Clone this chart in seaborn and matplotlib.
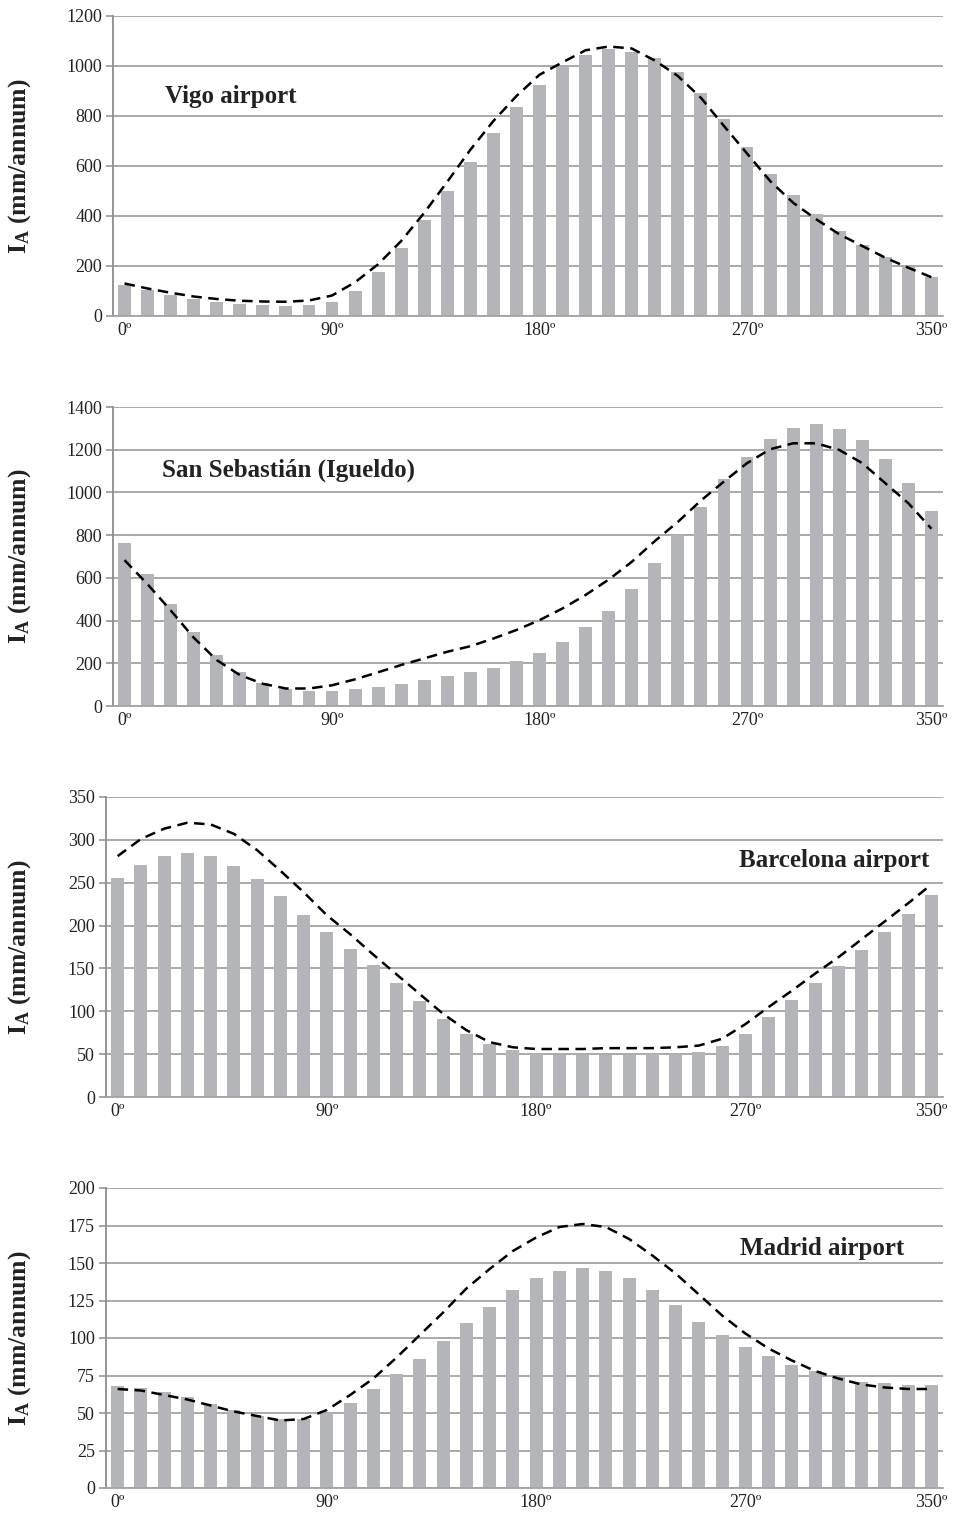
import matplotlib
matplotlib.use("Agg")
import matplotlib.pyplot as plt
import pandas as pd
import seaborn as sns

# ---------------- data ----------------
degrees = [0, 10, 20, 30, 40, 50, 60, 70, 80, 90, 100, 110, 120, 130, 140, 150, 160, 170,
           180, 190, 200, 210, 220, 230, 240, 250, 260, 270, 280, 290, 300, 310, 320, 330, 340, 350]
xtick_pos = [0, 90, 180, 270, 350]
xtick_labels = ["0º", "90º", "180º", "270º", "350º"]

vigo_bars = [125, 103, 85, 68, 55, 48, 43, 40, 45, 56, 100, 175, 272, 383, 500, 617, 731, 836,
             924, 996, 1044, 1068, 1058, 1031, 975, 893, 789, 675, 569, 483, 408, 341, 285, 236, 196, 157]
vigo_fit = [130, 110, 93, 78, 68, 61, 58, 57, 62, 82, 135, 207, 300, 413, 537, 665, 780, 880,
            965, 1015, 1063, 1078, 1070, 1022, 960, 873, 760, 650, 540, 453, 387, 327, 280, 233, 193, 155]

sansebastian_bars = [765, 620, 478, 345, 238, 160, 108, 80, 68, 68, 78, 90, 105, 122, 140, 158, 180, 210,
                     248, 302, 368, 447, 548, 668, 800, 933, 1062, 1168, 1250, 1302, 1319, 1297, 1244, 1157, 1044, 912]
sansebastian_fit = [683, 570, 448, 320, 215, 145, 104, 82, 82, 97, 125, 158, 192, 223, 254, 280, 316, 356,
                    402, 457, 520, 592, 675, 772, 862, 962, 1051, 1137, 1202, 1230, 1230, 1199, 1137, 1043, 949, 830]

barcelona_bars = [256, 271, 281, 285, 281, 270, 254, 234, 212, 192, 173, 154, 133, 112, 91, 73, 62, 55,
                  50, 49, 49, 49, 49, 50, 50, 53, 60, 74, 93, 113, 133, 153, 172, 193, 214, 236]
barcelona_fit = [281, 301, 313, 320, 318, 307, 288, 264, 239, 212, 190, 166, 143, 120, 97, 78, 64, 58,
                 56, 56, 56, 57, 57, 57, 58, 60, 68, 85, 105, 124, 144, 163, 184, 205, 226, 248]

madrid_bars = [68, 67, 64, 61, 56, 52, 48, 46, 46, 50, 57, 66, 76, 86, 98, 110, 121, 132,
               140, 145, 147, 145, 140, 132, 122, 111, 102, 94, 88, 82, 78, 74, 71, 70, 69, 69]
madrid_fit = [66, 65, 62, 59, 55, 51, 48, 45, 46, 52, 62, 73, 87, 102, 117, 133, 146, 158,
              167, 174, 176, 174, 166, 155, 143, 129, 115, 103, 93, 85, 78, 73, 69, 67, 66, 66]

titles = ["Vigo airport", "San Sebastián (Igueldo)", "Barcelona airport", "Madrid airport"]
y_max = [1200, 1400, 350, 200]
y_step = [200, 200, 50, 25]
ylabel_text = r"$\mathbf{I_A}$ (mm/annum)"

# ---------------- style ----------------
sns.set_style("white")
plt.rcParams['font.family'] = ['Liberation Serif', 'DejaVu Serif']
plt.rcParams['mathtext.fontset'] = 'custom'
plt.rcParams['mathtext.rm'] = 'Liberation Serif'
plt.rcParams['mathtext.bf'] = 'Liberation Serif:bold'
plt.rcParams['mathtext.it'] = 'Liberation Serif:italic'

BAR = '#b3b5b8'
GRID = '#a3a3a3'
AXIS = '#8c8c8c'
TXT = '#222222'

W, H = 955, 1516
fig = plt.figure(figsize=(W / 100, H / 100), dpi=100)

# pixel boxes (left, top, right, bottom)
boxes = [(113, 16, 943, 316), (113, 407, 943, 706), (106, 797, 943, 1097), (106, 1188, 943, 1488)]
title_pos = [(0.063, 0.733, 'left'), (0.059, 0.79, 'left'), (0.984, 0.787, 'right'), (0.757, 0.80, 'left')]

series = [(vigo_bars, vigo_fit), (sansebastian_bars, sansebastian_fit),
          (barcelona_bars, barcelona_fit), (madrid_bars, madrid_fit)]

for i, (bars, fit) in enumerate(series):
    l, t, r, b = boxes[i]
    ax = fig.add_axes([l / W, 1 - b / H, (r - l) / W, (b - t) / H])
    df = pd.DataFrame({'deg': degrees, 'ia': bars, 'fit': fit})
    sns.barplot(data=df, x='deg', y='ia', native_scale=True, color=BAR, saturation=1,
                width=0.56, errorbar=None, ax=ax, zorder=2, linewidth=0)
    sns.lineplot(data=df, x='deg', y='fit', color='black', linewidth=1.8, ax=ax, zorder=3)
    ax.lines[-1].set_linestyle((0, (4.2, 2.6)))

    ax.set_xlim(-5, 355)
    ax.set_ylim(0, y_max[i])
    ax.set_yticks(list(range(0, y_max[i] + 1, y_step[i])))
    ax.set_xticks(xtick_pos)
    ax.set_xticklabels(xtick_labels)
    ax.set_xlabel('')
    ax.set_ylabel('')

    ax.yaxis.grid(True, color=GRID, linewidth=1.3)
    ax.xaxis.grid(False)
    ax.set_axisbelow(True)
    sns.despine(ax=ax, top=True, right=True)
    ax.spines['left'].set_color(AXIS)
    ax.spines['left'].set_linewidth(1.3)
    ax.spines['bottom'].set_color(GRID)
    ax.spines['bottom'].set_linewidth(1.3)

    ax.tick_params(axis='y', length=5, width=1.1, color=AXIS, pad=3, labelsize=13, labelcolor=TXT, left=True)
    ax.tick_params(axis='x', length=0, pad=4, labelsize=13, labelcolor=TXT, bottom=True)

    ax.text((20 - l) / (r - l), 0.5, ylabel_text, transform=ax.transAxes, rotation=90,
            ha='center', va='center', fontsize=18.5, fontweight='bold', color=TXT)
    tx, ty, tha = title_pos[i]
    ax.text(tx, ty, titles[i], transform=ax.transAxes, ha=tha, va='center',
            fontsize=18, fontweight='bold', color=TXT)

fig.savefig('out.png', dpi=100)
